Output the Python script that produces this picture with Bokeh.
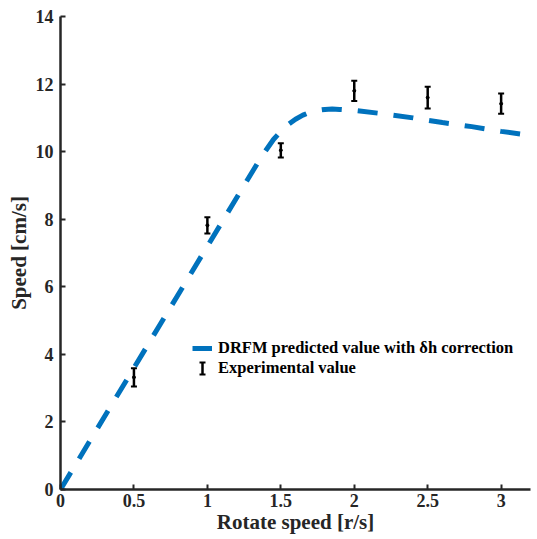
import math
from bokeh.plotting import figure
from bokeh.models import (Whisker, ColumnDataSource, Legend, LegendItem, TeeHead, Range1d,
                          FixedTicker, Arrow)
from bokeh.embed import file_html
from bokeh.resources import INLINE

# Model curve (DRFM predicted value with δh correction)
model_x = [0, 0.25, 0.5, 0.75, 1.0, 1.25, 1.35, 1.4, 1.45, 1.5, 1.55, 1.6, 1.65, 1.7, 1.75, 1.8,
           1.85, 1.9, 2.0, 2.2, 2.4, 2.6, 2.8, 3.0, 3.2]
model_y = [0, 1.8, 3.6, 5.4, 7.2, 9.0, 9.72, 10.05, 10.36, 10.6, 10.8, 10.96, 11.08, 11.17, 11.22, 11.25,
           11.26, 11.25, 11.22, 11.12, 11.0, 10.86, 10.74, 10.6, 10.48]

# Experimental values
exp_x = [0.5, 1.0, 1.5, 2.0, 2.5, 3.0]
exp_y = [3.32, 7.82, 10.04, 11.8, 11.6, 11.42]
exp_err = [0.27, 0.24, 0.21, 0.3, 0.32, 0.3]

x_ticks = [0, 0.5, 1, 1.5, 2, 2.5, 3]
y_ticks = [0, 2, 4, 6, 8, 10, 12, 14]

FONT = "Liberation Serif"
AX = "#262626"
BLUE = "#0072BD"

p = figure(width=537, height=539, output_backend="svg", toolbar_location=None,
           x_range=Range1d(0, 3.2), y_range=Range1d(0, 14),
           min_border_left=60, min_border_right=7, min_border_top=16, min_border_bottom=50)
p.outline_line_color = None
p.grid.visible = False
p.background_fill_color = "white"

line_r = p.line(model_x, model_y, line_color=BLUE, line_width=5, line_dash="20 16")

src = ColumnDataSource(dict(x=exp_x, y=exp_y,
                            lo=[a - b for a, b in zip(exp_y, exp_err)],
                            hi=[a + b for a, b in zip(exp_y, exp_err)]))
wk = Whisker(source=src, base="x", lower="lo", upper="hi", line_color="black", line_width=2.5,
             upper_head=TeeHead(size=6, line_color="black", line_width=2),
             lower_head=TeeHead(size=6, line_color="black", line_width=2))
p.add_layout(wk)
dot_r = p.scatter("x", "y", source=src, marker="circle", size=3, color="black")

# placeholder renderer for the legend's second entry
leg_r = p.scatter(x=[], y=[], marker="dash", size=1, line_alpha=0)

LX, LY = 132, 111
legend = Legend(items=[LegendItem(label="DRFM predicted value with δh correction", renderers=[line_r]),
                       LegendItem(label="Experimental value", renderers=[leg_r])],
                location=(LX, LY), padding=0, margin=0, spacing=-7,
                glyph_width=20, glyph_height=16, label_height=16, label_standoff=6,
                label_text_font=FONT, label_text_font_style="bold", label_text_font_size="16.5px",
                label_text_color="#000000",
                border_line_alpha=0, background_fill_alpha=0)
p.add_layout(legend)

# error-bar symbol in the legend (screen units)
p.add_layout(Arrow(x_start=LX + 10, y_start=LY + 4, x_end=LX + 10, y_end=LY + 16,
                   start_units="screen", end_units="screen",
                   line_color="black", line_width=2.5,
                   start=TeeHead(size=6, line_color="black", line_width=2),
                   end=TeeHead(size=6, line_color="black", line_width=2)))

for ax in (p.xaxis[0], p.yaxis[0]):
    ax.axis_line_color = AX
    ax.axis_line_width = 2.5
    ax.major_tick_line_color = AX
    ax.major_tick_line_width = 2
    ax.major_tick_in = 5
    ax.major_tick_out = 0
    ax.minor_tick_line_color = None
    ax.major_label_text_font = FONT
    ax.major_label_text_font_style = "bold"
    ax.major_label_text_font_size = "18px"
    ax.major_label_text_color = AX
    ax.axis_label_text_font = FONT
    ax.axis_label_text_font_style = "bold"
    ax.axis_label_text_font_size = "21px"
    ax.axis_label_text_color = AX

p.xaxis.ticker = FixedTicker(ticks=x_ticks)
p.yaxis.ticker = FixedTicker(ticks=y_ticks)
p.xaxis.major_label_overrides = {0: "0", 1: "1", 2: "2", 3: "3"}
p.xaxis.axis_label = "Rotate speed [r/s]"
p.yaxis.axis_label = "Speed [cm/s]"
p.xaxis.major_label_standoff = 4
p.yaxis.major_label_standoff = 7
p.xaxis.axis_label_standoff = 0
p.yaxis.axis_label_standoff = 2

open("out.html", "w").write(file_html(p, INLINE))
